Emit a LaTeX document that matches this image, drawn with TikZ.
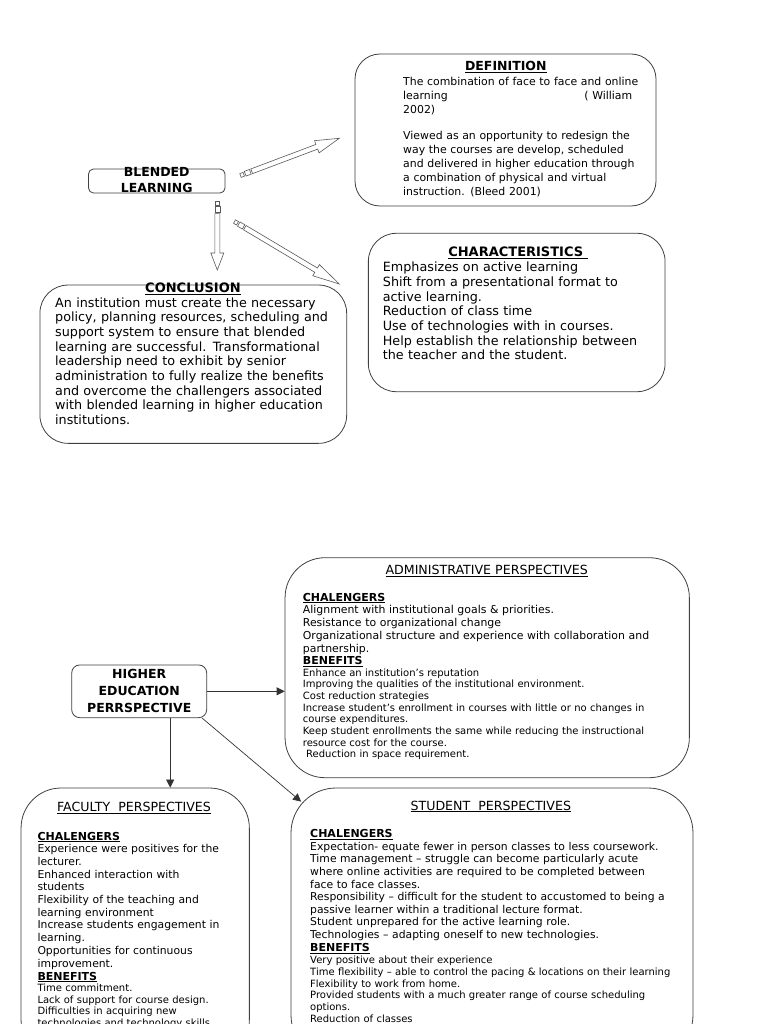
\documentclass[tikz,border=0pt]{standalone}
\usepackage{fontspec}
\setmainfont{DejaVu Sans}
\usetikzlibrary{arrows.meta,calc}
\begin{document}
\begin{tikzpicture}[x=1pt,y=-1pt,
  box/.style={draw=black!75, line width=0.8pt, rectangle, inner sep=0pt},
  txt/.style={inner sep=0pt, anchor=base west, align=left, text width=#1},
  txt/.default=420pt,
  ctr/.style={inner sep=0pt, anchor=base},
  ctrw/.style={inner sep=0pt, anchor=base, align=center, text width=160pt},
  conn/.style={draw=black!80, line width=0.7pt, -{Triangle[length=8pt,width=8pt]}},
  sarrowline/.style={draw=black!65, line width=0.6pt, fill=white},
  sarrowhead/.store in=\sahead, sarrowhead=22,
  sarrow/.pic={
    \draw[sarrowline] (0,-2) rectangle (3.5,2);
    \draw[sarrowline] (5,-2.5) rectangle (10.5,2.5);
    \draw[sarrowline] (12,-2.5) -- (#1-\sahead,-2.5) -- (#1-\sahead,-6.5) -- (#1,0)
       -- (#1-\sahead,6.5) -- (#1-\sahead,2.5) -- (12,2.5) -- cycle;
  }
]
\useasboundingbox[fill=white] (0,0) rectangle (768,1024);

% ---------- upper part ----------
\node[box, rounded corners=5pt, minimum width=136.5pt, minimum height=24pt] (blend) at (156.75,181) {};
\node[ctrw, font=\fontsize{12.5}{15.6}\selectfont\bfseries] (blendt) at (156.7,176.7) {BLENDED\\LEARNING};

\node[box, rounded corners=25pt, minimum width=301pt, minimum height=152pt] (def) at (505.5,130) {};
\node[ctr, font=\fontsize{12.5}{15}\selectfont\bfseries] (deft) at (505.8,70.7) {\underline{DEFINITION}};
\node[txt=260pt, font=\fontsize{10.9}{13.7}\selectfont] (defa) at (403,86)
  {The combination of face to face and online\\\makebox[229pt][l]{learning\hfill( William}\\2002)};
\node[txt=260pt, font=\fontsize{10.9}{14}\selectfont] (defb) at (403,139.3)
  {Viewed as an opportunity to redesign the\\way the courses are develop, scheduled\\and delivered in higher education through\\a combination of physical and virtual\\instruction. (Bleed 2001)};

\node[box, rounded corners=28pt, minimum width=296.7pt, minimum height=158.4pt] (char) at (516.7,312.5) {};
\node[ctr, font=\fontsize{13}{15}\selectfont\bfseries] (chart) at (518,256.7) {\underline{CHARACTERISTICS\ }};
\node[txt=290pt, font=\fontsize{12.75}{14.7}\selectfont] (charb) at (382.7,271.7)
  {Emphasizes on active learning\\Shift from a presentational format to\\active learning.\\Reduction of class time\\Use of technologies with in courses.\\Help establish the relationship between\\the teacher and the student.};

\node[box, rounded corners=28pt, minimum width=306.7pt, minimum height=158.3pt] (conc) at (193.3,364.2) {};
\node[ctr, font=\fontsize{13}{15}\selectfont\bfseries] (conct) at (193,292.7) {\underline{CONCLUSION}};
\node[txt=300pt, font=\fontsize{12.75}{14.67}\selectfont] (concb) at (55,307.3)
  {An institution must create the necessary\\policy, planning resources, scheduling and\\support system to ensure that blended\\learning are successful. Transformational\\leadership need to exhibit by senior\\administration to fully realize the benefits\\and overcome the challengers associated\\with blended learning in higher education\\institutions.};

% striped hollow arrows
\coordinate (a1s) at (240.5,175.5);
\coordinate (a1e) at (339.3,138.3);
\coordinate (a2s) at (217.3,201.7);
\coordinate (a2e) at (217.3,270);
\coordinate (a3s) at (234.5,221.5);
\coordinate (a3e) at (339.3,284);
\path let \p1=(a1s), \p2=(a1e), \n1={atan2(\y2-\y1,\x2-\x1)}, \n2={veclen(\x2-\x1,\y2-\y1)}
  in (a1s) pic[rotate=\n1, sarrowhead=24]{sarrow=\n2};
\path let \p1=(a2s), \p2=(a2e), \n1={atan2(\y2-\y1,\x2-\x1)}, \n2={veclen(\x2-\x1,\y2-\y1)}
  in (a2s) pic[rotate=\n1, sarrowhead=17]{sarrow=\n2};
\path let \p1=(a3s), \p2=(a3e), \n1={atan2(\y2-\y1,\x2-\x1)}, \n2={veclen(\x2-\x1,\y2-\y1)}
  in (a3s) pic[rotate=\n1, sarrowhead=27]{sarrow=\n2};

% ---------- lower part ----------
\node[box, rounded corners=8pt, minimum width=135pt, minimum height=52.7pt] (he) at (139.2,691.3) {};
\node[ctrw, font=\fontsize{12.5}{17}\selectfont\bfseries] (het) at (139.2,678.3) {HIGHER\\EDUCATION\\PERRSPECTIVE};

\node[box, rounded corners=40pt, minimum width=404.3pt, minimum height=220pt] (adm) at (487.2,667.7) {};
\node[ctr, font=\fontsize{12.6}{13}\selectfont] (admt) at (486.7,574.3) {\underline{ADMINISTRATIVE PERSPECTIVES}};
\node[txt, font=\fontsize{10.9}{12.8}\selectfont] (admc) at (302.7,601)
  {{\fontsize{11}{12.8}\selectfont\bfseries\underline{CHALENGERS}}\\Alignment with institutional goals \& priorities.\\Resistance to organizational change\\Organizational structure and experience with collaboration and\\partnership.};
\node[txt, font=\fontsize{10}{11.7}\selectfont] (admb) at (302.7,664.3)
  {{\fontsize{11}{11.7}\selectfont\bfseries\underline{BENEFITS}}\\Enhance an institution's reputation\\Improving the qualities of the institutional environment.\\Cost reduction strategies\\Increase student's enrollment in courses with little or no changes in\\course expenditures.\\Keep student enrollments the same while reducing the instructional\\resource cost for the course.\\\ Reduction in space requirement.};

\node[box, rounded corners=40pt, minimum width=228.3pt, minimum height=272pt] (fac) at (135.2,924) {};
\node[ctr, font=\fontsize{12.6}{13}\selectfont] (fact) at (134,811.7) {\underline{FACULTY\ \ PERSPECTIVES}};
\node[txt, font=\fontsize{10.8}{12.7}\selectfont] (facc) at (37.3,840)
  {{\fontsize{11}{12.7}\selectfont\bfseries\underline{CHALENGERS}}\\Experience were positives for the\\lecturer.\\Enhanced interaction with\\students\\Flexibility of the teaching and\\learning environment\\Increase students engagement in\\learning.\\Opportunities for continuous\\improvement.};
\node[txt, font=\fontsize{10}{11.5}\selectfont] (facb) at (37.3,980)
  {{\fontsize{11}{11.5}\selectfont\bfseries\underline{BENEFITS}}\\Time commitment.\\Lack of support for course design.\\Difficulties in acquiring new\\technologies and technology skills.};

\node[box, rounded corners=45pt, minimum width=402pt, minimum height=272pt] (stu) at (492,924) {};
\node[ctr, font=\fontsize{12.6}{13}\selectfont] (stut) at (490.8,810) {\underline{STUDENT\ \ PERSPECTIVES}};
\node[txt, font=\fontsize{10.8}{12.6}\selectfont] (stuc) at (310,837.7)
  {{\fontsize{11}{12.6}\selectfont\bfseries\underline{CHALENGERS}}\\Expectation- equate fewer in person classes to less coursework.\\Time management – struggle can become particularly acute\\where online activities are required to be completed between\\face to face classes.\\Responsibility – difficult for the student to accustomed to being a\\passive learner within a traditional lecture format.\\Student unprepared for the active learning role.\\Technologies – adapting oneself to new technologies.};
\node[txt, font=\fontsize{10}{11.8}\selectfont] (stub) at (310,951.7)
  {{\fontsize{11}{11.8}\selectfont\bfseries\underline{BENEFITS}}\\Very positive about their experience\\Time flexibility – able to control the pacing \& locations on their learning\\Flexibility to work from home.\\Provided students with a much greater range of course scheduling\\options.\\Reduction of classes};

% connectors
\draw[conn] (he.east) -- (he.east -| adm.west);
\draw[conn] ([xshift=31pt]he.south) -- ([xshift=31pt]he.south |- fac.north);
\draw[conn] ([xshift=-5pt]he.south east) -- ([xshift=10.5pt,yshift=-14pt]stu.north west);
\end{tikzpicture}
\end{document}
